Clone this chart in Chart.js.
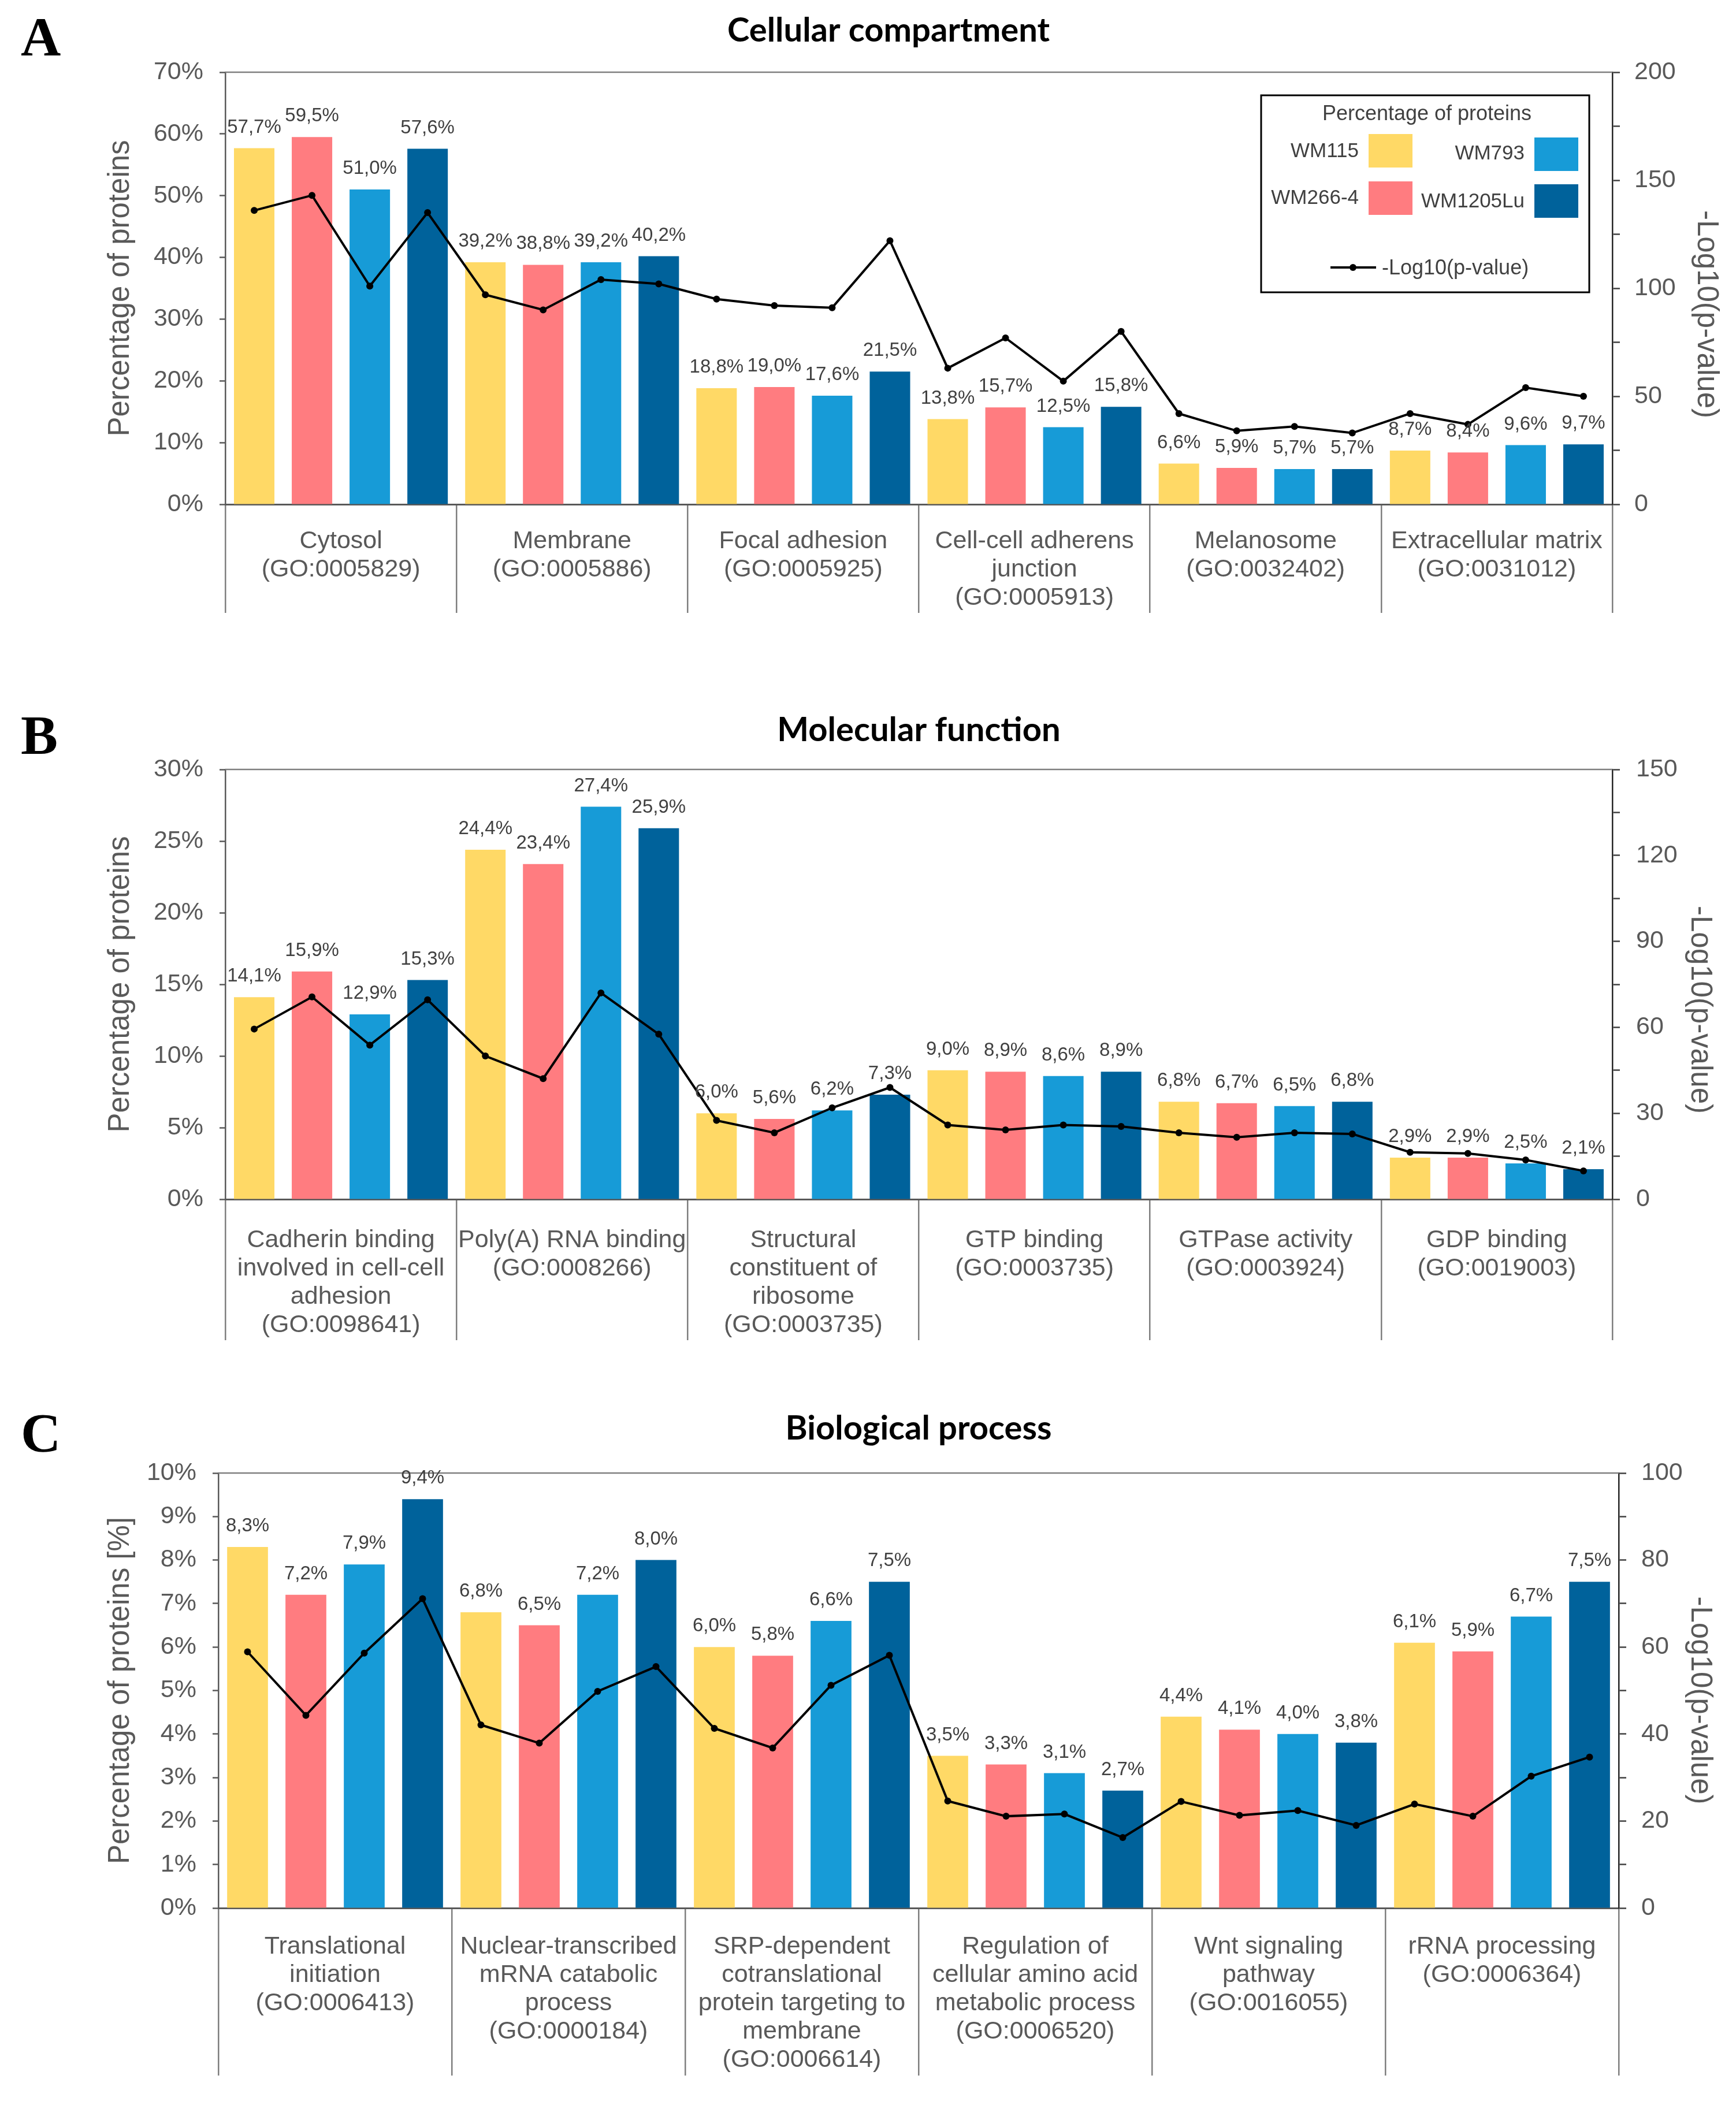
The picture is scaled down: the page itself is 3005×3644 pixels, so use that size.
<!DOCTYPE html>
<html><head><meta charset="utf-8">
<script src="https://cdn.jsdelivr.net/npm/chart.js@4.4.1/dist/chart.umd.min.js"></script>
<style>
html,body{margin:0;padding:0;background:#fff;width:3005px;height:3644px;overflow:hidden}
canvas{position:absolute;left:0}
</style></head><body>
<canvas id="cA" width="3005" height="1110" style="top:0px"></canvas>
<canvas id="cB" width="3005" height="1180" style="top:1180px"></canvas>
<canvas id="cC" width="3005" height="1264" style="top:2380px"></canvas>
<script>
// ---------- DATA ----------
const seriesNames = ['WM115', 'WM266-4', 'WM793', 'WM1205Lu'];
const lineName = '-Log10(p-value)';

// Panel A: Cellular compartment
const catsA = [['Cytosol','(GO:0005829)'], ['Membrane','(GO:0005886)'], ['Focal adhesion','(GO:0005925)'],
  ['Cell-cell adherens','junction','(GO:0005913)'], ['Melanosome','(GO:0032402)'], ['Extracellular matrix','(GO:0031012)']];
const wm115A   = [57.7, 39.2, 18.8, 13.8, 6.6, 8.7];
const wm2664A  = [59.5, 38.8, 19.0, 15.7, 5.9, 8.4];
const wm793A   = [51.0, 39.2, 17.6, 12.5, 5.7, 9.6];
const wm1205A  = [57.6, 40.2, 21.5, 15.8, 5.7, 9.7];
const pvalA = [136, 143, 101, 135,  97, 90, 104, 102,  95, 92, 91, 122,  63, 77, 57, 80,  42, 34, 36, 33,  42, 37, 54, 50];

// Panel B: Molecular function
const catsB = [['Cadherin binding','involved in cell-cell','adhesion','(GO:0098641)'], ['Poly(A) RNA binding','(GO:0008266)'],
  ['Structural','constituent of','ribosome','(GO:0003735)'], ['GTP binding','(GO:0003735)'], ['GTPase activity','(GO:0003924)'], ['GDP binding','(GO:0019003)']];
const wm115B   = [14.1, 24.4, 6.0, 9.0, 6.8, 2.9];
const wm2664B  = [15.9, 23.4, 5.6, 8.9, 6.7, 2.9];
const wm793B   = [12.9, 27.4, 6.2, 8.6, 6.5, 2.5];
const wm1205B  = [15.3, 25.9, 7.3, 8.9, 6.8, 2.1];
const pvalB = [59.4, 70.6, 53.8, 69.6,  50, 42.1, 72, 57.6,  27.5, 23.2, 31.9, 39,  25.9, 24.2, 25.9, 25.4,  23.2, 21.6, 23.2, 22.8,  16.4, 16, 13.7, 9.9];

// Panel C: Biological process
const catsC = [['Translational','initiation','(GO:0006413)'], ['Nuclear-transcribed','mRNA catabolic','process','(GO:0000184)'],
  ['SRP-dependent','cotranslational','protein targeting to','membrane','(GO:0006614)'], ['Regulation of','cellular amino acid','metabolic process','(GO:0006520)'],
  ['Wnt signaling','pathway','(GO:0016055)'], ['rRNA processing','(GO:0006364)']];
const wm115C   = [8.3, 6.8, 6.0, 3.5, 4.4, 6.1];
const wm2664C  = [7.2, 6.5, 5.8, 3.3, 4.1, 5.9];
const wm793C   = [7.9, 7.2, 6.6, 3.1, 4.0, 6.7];
const wm1205C  = [9.4, 8.0, 7.5, 2.7, 3.8, 7.5];
const pvalC = [58.9, 44.3, 58.6, 71.1,  42.1, 37.9, 49.8, 55.5,  41.3, 36.8, 51.2, 58.1,  24.6, 21.1, 21.6, 16.2,  24.5, 21.3, 22.4, 19,  23.9, 21.1, 30.3, 34.7];

// axis ranges
const leftMax  = {A: 70, B: 30, C: 10};
const leftStep = {A: 10, B: 5,  C: 1};
const rightMax  = {A: 200, B: 150, C: 100};
const rightStep = {A: 50,  B: 30,  C: 20};

// ---------- STYLE ----------
const seriesColors = ['#FFD966', '#FF7C80', '#179BD7', '#00629B'];
const greyText = '#595959';
const labelText = '#404040';
const sans = '"Liberation Sans", Arial, sans-serif';

const fmt = v => v.toFixed(1).replace('.', ',') + '%';

const barLabels = {
  id: 'barLabels',
  afterDatasetsDraw(chart) {
    const c = chart.ctx;
    c.save();
    c.font = '33px ' + sans;
    c.fillStyle = labelText;
    c.textAlign = 'center';
    c.textBaseline = 'middle';
    chart.data.datasets.forEach((ds, i) => {
      if (ds.type !== 'bar') return;
      chart.getDatasetMeta(i).data.forEach((el, k) => {
        const v = ds.data[k];
        if (v === null || v === undefined) return;
        c.fillText(fmt(v), el.x, el.y - 36);
      });
    });
    c.restore();
  }
};

const topFrame = {
  id: 'topFrame',
  beforeDatasetsDraw(chart) {
    const a = chart.chartArea, c = chart.ctx;
    c.save(); c.strokeStyle = '#7f7f7f'; c.lineWidth = 2.5;
    c.beginPath(); c.moveTo(a.left, a.top); c.lineTo(a.right, a.top); c.stroke();
    c.restore();
  }
};

function letterPlugin(letter, baseY) {
  return {
    id: 'letter' + letter,
    afterDraw(chart) {
      const c = chart.ctx;
      c.save(); c.font = 'bold 96px "Liberation Serif", "Times New Roman", serif';
      c.fillStyle = '#000'; c.textAlign = 'left'; c.textBaseline = 'alphabetic';
      c.fillText(letter, 36, baseY); c.restore();
    }
  };
}

// right-axis title (rotated clockwise), placed a little below the axis centre as in the source
function rightTitlePlugin(xCenter, dy) {
  return {
    id: 'rightTitle',
    afterDraw(chart) {
      const a = chart.chartArea, c = chart.ctx;
      c.save();
      c.translate(xCenter, (a.top + a.bottom) / 2 + dy);
      c.rotate(Math.PI / 2);
      c.font = '51px ' + sans; c.fillStyle = greyText;
      c.textAlign = 'center'; c.textBaseline = 'middle';
      c.fillText(lineName, 0, 0);
      c.restore();
    }
  };
}

const legendA = {
  id: 'legendA',
  afterDraw(chart) {
    const c = chart.ctx;
    const ds = chart.data.datasets;
    c.save();
    c.strokeStyle = '#000'; c.lineWidth = 3;
    c.strokeRect(2183, 165, 568, 341);
    c.fillStyle = labelText;
    c.font = '36px ' + sans; c.textAlign = 'center'; c.textBaseline = 'middle';
    c.fillText('Percentage of proteins', 2470, 198);
    const items = [
      {i: 0, sx: 2369, sy: 232, tx: 2352, ty: 262},
      {i: 2, sx: 2656, sy: 238, tx: 2639, ty: 266},
      {i: 1, sx: 2369, sy: 314, tx: 2352, ty: 343},
      {i: 3, sx: 2656, sy: 319, tx: 2639, ty: 349}
    ];
    c.font = '35px ' + sans; c.textAlign = 'right';
    items.forEach(it => {
      c.fillStyle = ds[it.i].backgroundColor;
      c.fillRect(it.sx, it.sy, 76, 58);
      c.fillStyle = labelText;
      c.fillText(ds[it.i].label, it.tx, it.ty);
    });
    c.strokeStyle = '#000'; c.lineWidth = 4;
    c.beginPath(); c.moveTo(2303, 463); c.lineTo(2382, 463); c.stroke();
    c.fillStyle = '#000'; c.beginPath(); c.arc(2342, 463, 6, 0, Math.PI * 2); c.fill();
    c.fillStyle = labelText; c.font = '36px ' + sans; c.textAlign = 'left';
    c.fillText(ds[4].label, 2392, 465);
    c.restore();
  }
};

function makePanel(id, P) {
  const nCat = P.cats.length, nSer = P.series.length;
  // one slot per bar: slot k = category*nSer + series
  const slots = [];
  for (let i = 0; i < nCat; i++) for (let j = 0; j < nSer; j++) slots.push(i + '-' + j);
  const bars = P.series.map((vals, j) => ({
    type: 'bar', label: seriesNames[j],
    data: slots.map((s, k) => (k % nSer === j ? vals[Math.floor(k / nSer)] : null)),
    backgroundColor: seriesColors[j], xAxisID: 'xs', yAxisID: 'y',
    grouped: false, barPercentage: 0.7, categoryPercentage: 1.0, order: 2
  }));
  const line = {
    type: 'line', label: lineName, data: P.pval,
    xAxisID: 'xs', yAxisID: 'y1', borderColor: '#000', backgroundColor: '#000',
    borderWidth: 4, pointRadius: 6, pointHoverRadius: 6, pointBorderWidth: 0,
    tension: 0, order: 1
  };
  const plugins = [topFrame, barLabels, letterPlugin(P.letter, P.letterY), rightTitlePlugin(P.rtX, P.rtDy)];
  if (P.legend) plugins.push(legendA);
  new Chart(document.getElementById(id), {
    type: 'bar',
    data: {labels: slots, datasets: [...bars, line]},
    options: {
      responsive: false, animation: false, devicePixelRatio: 1,
      layout: {padding: {left: P.padL, right: 0, top: 0, bottom: 0}},
      plugins: {
        legend: {display: false}, tooltip: {enabled: false},
        title: {display: true, text: P.title, fullSize: P.fullSize, color: '#000',
          font: {family: 'Lato, "Open Sans", sans-serif', weight: 'bold', size: 58, lineHeight: 1.2},
          padding: {top: P.tTop, bottom: P.tBot}}
      },
      scales: {
        x: {
          type: 'category', labels: P.cats, position: 'bottom', offset: true,
          grid: {display: true, offset: true, drawOnChartArea: false, drawTicks: true,
            tickLength: P.sepLen, color: '#7f7f7f', tickColor: '#7f7f7f', lineWidth: 2.5, tickWidth: 2.5},
          border: {display: true, color: '#595959', width: 3},
          ticks: {autoSkip: false, maxRotation: 0, minRotation: 0, padding: P.labPad, color: greyText,
            font: {family: sans, size: 43, lineHeight: 49 / 43}},
          afterFit: s => { s.height = P.xH; }
        },
        xs: {type: 'category', labels: slots, display: false, offset: true, position: 'bottom'},
        y: {
          type: 'linear', position: 'left', min: 0, max: P.yMax,
          ticks: {stepSize: P.yStep, padding: 28, color: greyText, font: {family: sans, size: 43},
            callback: v => v + '%'},
          grid: {display: true, drawOnChartArea: false, drawTicks: true, tickLength: 10, tickColor: '#595959', tickWidth: 2.5},
          border: {display: true, color: '#595959', width: 2.5},
          title: {display: true, text: P.yTitle, color: greyText, font: {family: sans, size: 51, lineHeight: 1.2},
            padding: {top: P.yTitlePad, bottom: 0}},
          afterFit: s => { s.width = P.yW; }
        },
        y1: {
          type: 'linear', position: 'right', min: 0, max: P.y1Max,
          ticks: {stepSize: P.y1Step / 2, autoSkip: false, padding: P.y1TickPad, color: greyText, font: {family: sans, size: 43},
            callback: v => (Math.round(v) % P.y1Step === 0 ? v : '')},
          grid: {display: true, drawOnChartArea: false, drawTicks: true, tickLength: 13, tickColor: '#404040', tickWidth: 2.5},
          border: {display: true, color: '#262626', width: 2.5},
          title: {display: false, text: lineName},
          afterFit: s => { s.width = P.y1W; }
        }
      }
    },
    plugins
  });
}

makePanel('cA', {
  letter: 'A', letterY: 96, title: 'Cellular compartment', fullSize: true, padL: 71, tTop: 18.2, tBot: 37.2,
  cats: catsA, series: [wm115A, wm2664A, wm793A, wm1205A], pval: pvalA,
  yMax: leftMax.A, yStep: leftStep.A, y1Max: rightMax.A, y1Step: rightStep.A,
  yTitle: 'Percentage of proteins', yW: 319, yTitlePad: 107.4, y1W: 214, y1TickPad: 25,
  rtX: 2953, rtDy: 45,
  xH: 237, sepLen: 188, labPad: -148.5, legend: true
});
makePanel('cB', {
  letter: 'B', letterY: 125, title: 'Molecular function', fullSize: false, padL: 0, tTop: 49.2, tBot: 33.2,
  cats: catsB, series: [wm115B, wm2664B, wm793B, wm1205B], pval: pvalB,
  yMax: leftMax.B, yStep: leftStep.B, y1Max: rightMax.B, y1Step: rightStep.B,
  yTitle: 'Percentage of proteins', yW: 390, yTitlePad: 178.4, y1W: 214, y1TickPad: 28,
  rtX: 2942, rtDy: 44,
  xH: 284, sepLen: 244, labPad: -197.5, legend: false
});
makePanel('cC', {
  letter: 'C', letterY: 133, title: 'Biological process', fullSize: false, padL: 0, tTop: 58.2, tBot: 42.2,
  cats: catsC, series: [wm115C, wm2664C, wm793C, wm1205C], pval: pvalC,
  yMax: leftMax.C, yStep: leftStep.C, y1Max: rightMax.C, y1Step: rightStep.C,
  yTitle: 'Percentage of proteins [%]', yW: 378, yTitlePad: 178.4, y1W: 203, y1TickPad: 26,
  rtX: 2942, rtDy: 17,
  xH: 341, sepLen: 290, labPad: -247.5, legend: false
});
</script>
</body></html>
